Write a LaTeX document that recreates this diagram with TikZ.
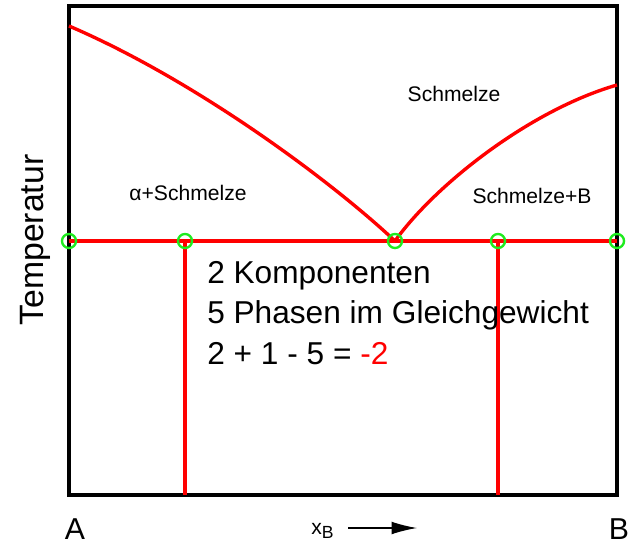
\documentclass[tikz,border=0pt]{standalone}
\usepackage{fontspec}
\setmainfont{Liberation Sans}
\usepackage{tikz}
\usetikzlibrary{arrows.meta,positioning}
\definecolor{markgreen}{RGB}{30,235,30}

\begin{document}
\begin{tikzpicture}[
    x=0.025cm, y=-0.025cm,
    frame/.style={draw=black, line width=2.8pt},
    phaseline/.style={draw=red, line width=2.4pt},
    marker/.style={circle, draw=markgreen, line width=1.7pt, minimum size=10pt, inner sep=0pt},
    region/.style={font=\fontsize{15}{18}\selectfont, anchor=base, inner sep=0pt},
    rule/.style={font=\fontsize{22.5}{26}\selectfont, anchor=base west, inner sep=0pt},
    axislabel/.style={font=\fontsize{21.5}{25}\selectfont, anchor=base, inner sep=0pt}
]
\useasboundingbox (0,0) rectangle (632,545);

% Frame
\coordinate (tl) at (69,6);
\coordinate (br) at (617,495);
\draw[frame] (tl) rectangle (br);

% Points on the eutectic line
\coordinate (eA) at (69,241);
\coordinate (eL) at (185,241);
\coordinate (eE) at (395,241);
\coordinate (eR) at (498,241);
\coordinate (eB) at (617,241);
\coordinate (mA) at (69,26);
\coordinate (mB) at (617,85);
\coordinate (bL) at (185,495);
\coordinate (bR) at (498,495);

% Liquidus curves
\draw[phaseline] (mA) .. controls (195,80) and (330,180) .. (eE);
\draw[phaseline] (eE) .. controls (435,185) and (530,110) .. (mB);

% Eutectic line and verticals
\draw[phaseline] (eA) -- (eB);
\draw[phaseline] (eL) -- (bL);
\draw[phaseline] (eR) -- (bR);

% Markers
\foreach \p in {eA,eL,eE,eR,eB}
    \node[marker] at (\p) {};

% Region labels
\node[region] (melt) at (454,102) {Schmelze};
\node[region] (alpha) at (188,200) {α+Schmelze};
\node[region] (meltB) at (532,203) {Schmelze+B};

% Rule text
\node[rule] (comp) at (207,283) {2 Komponenten};
\node[rule] (phases) at (207,323) {5 Phasen im Gleichgewicht};
\node[rule] (result) at (207,364) {2 + 1 - 5 = \textcolor{red}{-2}};

% Axes
\node[font=\fontsize{24}{28}\selectfont, rotate=90] (temp) at (35,240) {Temperatur};
\node[axislabel] (lA) at (75,539) {A};
\node[axislabel] (lB) at (619,539) {B};
\node[font=\fontsize{15}{18}\selectfont, anchor=base west, inner sep=0pt] (xb) at (311,534)
    {x\raisebox{-3.5pt}{\fontsize{12.5}{14}\selectfont B}};
\coordinate (arrend) at (417,528);
\draw[-{Latex[length=18pt,width=9pt]}, line width=1pt] (348,528) -- (arrend);
\end{tikzpicture}
\end{document}
